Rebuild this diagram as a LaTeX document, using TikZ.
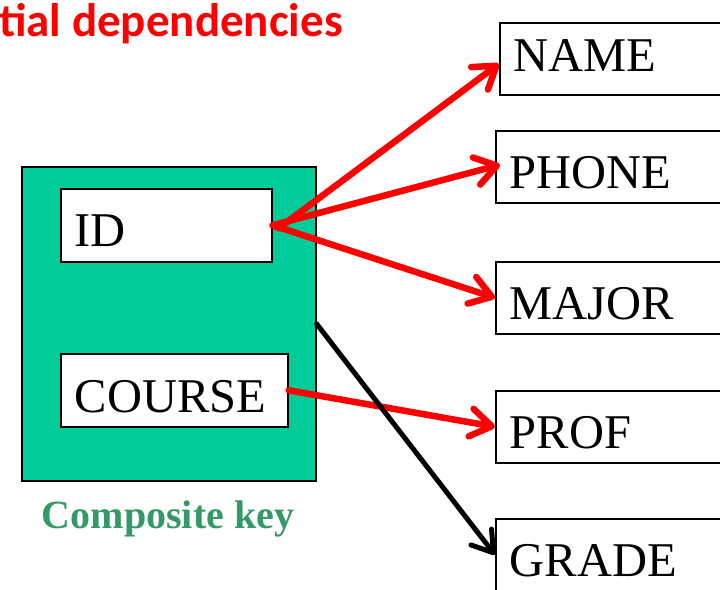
\documentclass[tikz,border=0pt]{standalone}
\usepackage{fontspec}
\setmainfont{Liberation Serif}
\newfontfamily\titlefont{Carlito}
\usetikzlibrary{arrows.meta}
\definecolor{keyfill}{HTML}{00CC99}
\definecolor{keytext}{HTML}{339966}
\definecolor{depred}{HTML}{FF0000}
\tikzset{
  attrbox/.style={draw=black, fill=white, line width=1.6pt, anchor=north west,
    minimum height=72pt, inner xsep=14pt, inner ysep=0pt, align=left,
    text height=57.5pt, text depth=14.5pt,
    font=\fontsize{48.5}{56}\selectfont},
  deparrow/.style={draw=depred, line width=6.5pt, line cap=round, line join=round,
    -{Straight Barb[length=21pt,width=28pt,line cap=round,line join=round]}},
  fullarrow/.style={draw=black, line width=5pt, line cap=round, line join=round,
    -{Straight Barb[length=20pt,width=26pt,line cap=round,line join=round]}},
}
\begin{document}
\begin{tikzpicture}[x=1pt,y=-1pt]
\useasboundingbox (0,0) rectangle (720,589);
\clip (0,0) rectangle (720,589);
% title
\node[anchor=base west, inner sep=0pt, text=depred, font=\titlefont\bfseries\fontsize{47}{52}\selectfont] (title) at (-1,36) {tial dependencies};
% composite key
\node[draw=black, fill=keyfill, line width=1.6pt, anchor=north west, minimum width=294pt, minimum height=314pt, inner sep=0pt] (key) at (21,166) {};
\node[attrbox, minimum width=211pt, minimum height=73pt, text width=183pt, text height=58pt, text depth=15pt] (id) at (60,188) {ID};
\node[attrbox, minimum width=227pt, minimum height=73pt, text width=199pt, text height=58.5pt, text depth=14.5pt] (course) at (60,353) {COURSE};
\node[anchor=base, inner sep=0pt, text=keytext, font=\bfseries\fontsize{40}{46}\selectfont] (keylabel) at (168,528) {Composite key};
% dependent attributes
\node[attrbox, minimum width=241pt, text width=213pt, text height=49pt, text depth=23pt] (name) at (499,22) {NAME};
\node[attrbox, minimum width=245pt, text width=217pt] (phone) at (495,130) {PHONE};
\node[attrbox, minimum width=245pt, text width=217pt] (major) at (495,261) {MAJOR};
\node[attrbox, minimum width=245pt, text width=217pt] (prof) at (495,390) {PROF};
\node[attrbox, minimum width=245pt, text width=217pt] (grade) at (495,518) {GRADE};
% arrows
\draw[deparrow] ([xshift=6pt,yshift=-3pt]id.east) -- ([yshift=-5pt]name.west);
\draw[deparrow] (id.east) -- ([xshift=5pt,yshift=2pt]phone.west);
\draw[deparrow] (id.east) -- (major.west);
\draw[deparrow] (course.east) -- (prof.west);
\draw[fullarrow] (key.east) -- (grade.west);
\end{tikzpicture}
\end{document}
